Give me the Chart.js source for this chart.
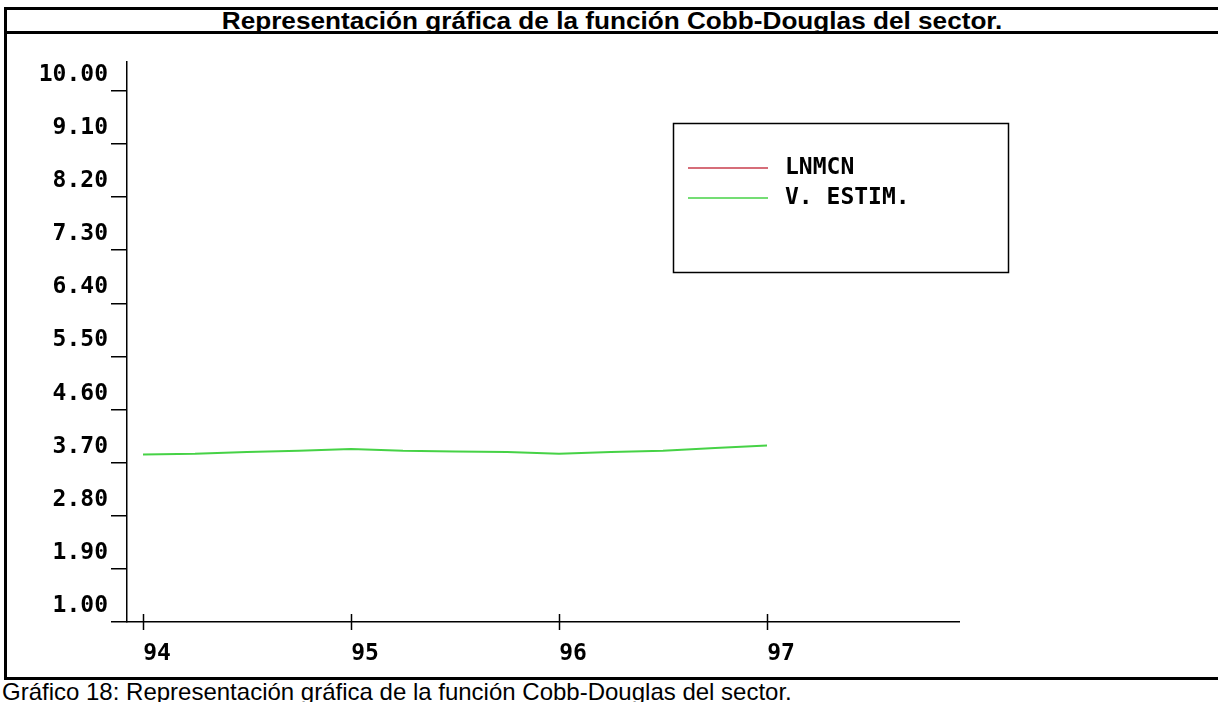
<!DOCTYPE html>
<html>
<head>
<meta charset="utf-8">
<script src="https://cdn.jsdelivr.net/npm/chart.js@4/dist/chart.umd.min.js"></script>
<style>
  body { margin: 0; background: #fff; width: 1218px; height: 702px; overflow: hidden; position: relative; }
  .rule { position: absolute; background: #000; }
  #title { position: absolute; left: 7px; width: 1211px; top: 10px; height: 22px; text-align: center;
    font: bold 24px "Liberation Sans", Arial, sans-serif; text-decoration: underline; line-height: 22px; white-space: nowrap; }
  #title span { display: inline-block; transform: scaleX(1.09); }
  #caption { position: absolute; left: 2px; top: 680px; font: 24px "Liberation Sans", Arial, sans-serif; white-space: nowrap; line-height: 24px; }
  #wrap { position: absolute; left: 7px; top: 34px; width: 1211px; height: 643px; }
</style>
</head>
<body>
<div id="title"><span>Representación gráfica de la función Cobb-Douglas del sector.</span></div>
<div class="rule" style="left:4px;top:7px;width:1214px;height:3px"></div>
<div class="rule" style="left:4px;top:31px;width:1214px;height:3px"></div>
<div class="rule" style="left:4px;top:677px;width:1214px;height:3px"></div>
<div class="rule" style="left:4px;top:7px;width:3px;height:673px"></div>
<div id="wrap"><canvas id="chart" width="1211" height="643"></canvas></div>
<div id="caption">Gráfico 18: Representación gráfica de la función Cobb-Douglas del sector.</div>
<script>
// quarterly points 94 Q1 .. 97 Q1
const periods = [94, 94.25, 94.5, 94.75, 95, 95.25, 95.5, 95.75, 96, 96.25, 96.5, 96.75, 97];
const lnmcn = [];
const vEstim = [3.84, 3.85, 3.88, 3.90, 3.93, 3.90, 3.89, 3.88, 3.85, 3.88, 3.90, 3.95, 3.99];
const yearTicks = [94, 95, 96, 97];
const yTicks = [1.00, 1.90, 2.80, 3.70, 4.60, 5.50, 6.40, 7.30, 8.20, 9.10, 10.00];
const seriesNames = ['LNMCN', 'V. ESTIM.'];
const seriesColors = ['#c83c4c', '#46d246'];

const monoFont = { family: '"DejaVu Sans Mono", monospace', size: 23, weight: 'bold' };

// x ticks cross the axis line
const crossTicks = {
  id: 'crossTicks',
  afterDraw(chart) {
    const c = chart.ctx, xs = chart.scales.x, yPos = chart.chartArea.bottom;
    c.save();
    c.strokeStyle = '#000';
    c.lineWidth = 1.5;
    yearTicks.forEach(t => {
      const px = Math.round(xs.getPixelForValue(t)) + 0.5;
      c.beginPath();
      c.moveTo(px, yPos - 8);
      c.lineTo(px, yPos + 8);
      c.stroke();
    });
    c.restore();
  }
};

// boxed legend inside the plot
const boxLegend = {
  id: 'boxLegend',
  afterDraw(chart) {
    const c = chart.ctx;
    const bx = 666, by = 89, bw = 335, bh = 149;
    c.save();
    c.strokeStyle = '#000';
    c.lineWidth = 1.5;
    c.strokeRect(bx + 0.5, by + 0.5, bw, bh);
    c.font = 'bold 23px "DejaVu Sans Mono", monospace';
    c.textBaseline = 'middle';
    c.fillStyle = '#000';
    chart.data.datasets.forEach((ds, i) => {
      const ly = by + 45 + i * 30;
      c.strokeStyle = ds.borderColor;
      c.lineWidth = 1.5;
      c.beginPath();
      c.moveTo(bx + 15, ly);
      c.lineTo(bx + 95, ly);
      c.stroke();
      c.fillText(ds.label, bx + 112, ly);
    });
    c.restore();
  }
};

const ctx = document.getElementById('chart').getContext('2d');
const chart = new Chart(ctx, {
  type: 'line',
  data: {
    datasets: [{
      label: seriesNames[0],
      data: lnmcn.map((v, i) => ({ x: periods[i], y: v })),
      borderColor: seriesColors[0],
      borderWidth: 1.5,
      pointRadius: 0
    }, {
      label: seriesNames[1],
      data: vEstim.map((v, i) => ({ x: periods[i], y: v })),
      borderColor: seriesColors[1],
      borderWidth: 2,
      pointRadius: 0,
      tension: 0
    }]
  },
  options: {
    responsive: false,
    animation: false,
    layout: { padding: { left: 0, top: 28, right: 259, bottom: 0 } },
    plugins: {
      legend: { display: false },
      tooltip: { enabled: false }
    },
    scales: {
      x: {
        type: 'linear',
        min: 93.923,
        max: 97.923,
        afterBuildTicks: s => { s.ticks = yearTicks.map(v => ({ value: v })); },
        afterFit: s => { s.height = 55; },
        grid: { display: true, drawOnChartArea: false, drawTicks: false },
        border: { color: '#000', width: 1.5 },
        ticks: { color: '#000', font: monoFont, padding: 18, labelOffset: 14, maxRotation: 0, callback: v => String(v) }
      },
      y: {
        min: 1,
        max: 10.49,
        afterBuildTicks: s => { s.ticks = yTicks.map(v => ({ value: v })); },
        afterFit: s => { s.width = 120; },
        grid: { display: true, drawOnChartArea: false, drawTicks: true, tickLength: 16, color: '#000', lineWidth: 1.5 },
        border: { color: '#000', width: 1.5 },
        ticks: { color: '#000', font: monoFont, padding: 3, labelOffset: -16, callback: v => v.toFixed(2) }
      }
    }
  },
  plugins: [crossTicks, boxLegend]
});
</script>
</body>
</html>
